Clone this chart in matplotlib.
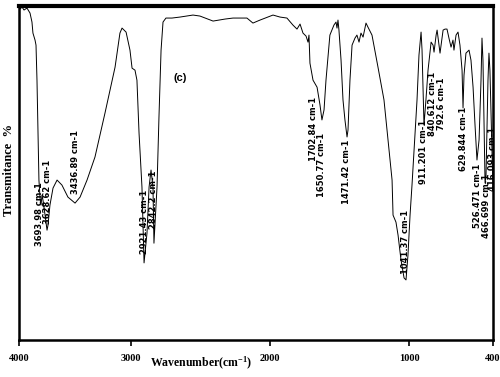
import matplotlib
matplotlib.use("Agg")
import matplotlib.pyplot as plt

plt.rcParams['mathtext.default'] = 'regular'

# FTIR spectrum (c)
wavenumber = [3793, 3778, 3764, 3743, 3721, 3707, 3700, 3685, 3678, 3671,
              3664, 3657, 3649, 3642, 3635, 3628, 3613, 3599, 3592, 3578,
              3556, 3527, 3492, 3449, 3398, 3362, 3312, 3255, 3183, 3111,
              3076, 3061, 3032, 3004, 2989, 2968, 2954, 2939, 2918, 2903,
              2882, 2867, 2853, 2839, 2832, 2810, 2796, 2781, 2767, 2746,
              2703, 2645, 2552, 2502, 2408, 2322, 2265, 2165, 2122, 2071,
              1978, 1928, 1878, 1835, 1806, 1784, 1763, 1741, 1727, 1720,
              1713, 1691, 1662, 1641, 1627, 1612, 1598, 1570, 1541, 1526,
              1519, 1512, 1505, 1490, 1476, 1462, 1447, 1440, 1426, 1411,
              1390, 1376, 1361, 1347, 1332, 1311, 1297, 1268, 1225, 1182,
              1153, 1124, 1117, 1096, 1081, 1060, 1038, 1024, 1010, 995,
              981, 966, 945, 931, 916, 909, 895, 881, 866, 844,
              830, 823, 808, 801, 780, 758, 744, 730, 716, 701,
              687, 680, 665, 651, 637, 622, 615, 608, 594, 572,
              558, 543, 529, 515, 500, 486, 479, 472, 457, 450,
              436, 429, 422, 407, 400]
transmit = [99.1, 99.7, 98.8, 99.4, 97.9, 95.2, 91.9, 89.8, 88.3, 77.8,
            62.9, 47.9, 42.5, 40.4, 43.4, 41.9, 37.4, 32.9, 34.4, 40.4,
            45.5, 47.9, 46.4, 42.8, 41.0, 42.8, 47.9, 54.8, 68.0, 81.7,
            91.9, 93.4, 92.2, 86.8, 81.4, 80.8, 77.8, 62.0, 45.8, 23.1,
            32.0, 45.8, 50.9, 45.8, 29.0, 45.8, 66.8, 86.8, 95.2, 96.4,
            96.4, 96.7, 97.3, 97.0, 95.5, 96.1, 96.4, 96.4, 94.9, 95.8,
            97.3, 96.7, 96.4, 94.3, 93.1, 94.6, 91.9, 91.0, 89.2, 91.3,
            82.9, 77.8, 75.7, 70.4, 65.9, 68.9, 77.8, 91.3, 94.3, 95.2,
            93.4, 95.8, 92.8, 83.8, 71.9, 65.9, 60.8, 62.9, 77.8, 88.3,
            90.4, 91.3, 89.2, 91.9, 90.7, 94.9, 93.7, 91.3, 81.7, 71.9,
            59.9, 47.9, 37.4, 35.3, 31.4, 24.0, 18.6, 18.0, 25.4, 37.4,
            46.4, 56.9, 71.9, 85.3, 92.2, 86.8, 64.4, 71.9, 80.8, 89.2,
            88.3, 86.2, 91.3, 92.8, 85.9, 92.8, 93.1, 93.1, 90.4, 87.7,
            89.8, 86.8, 91.3, 92.2, 88.3, 80.8, 69.5, 79.3, 85.9, 86.8,
            83.8, 75.7, 64.4, 53.9, 59.9, 77.8, 90.4, 83.8, 47.0, 49.4,
            77.8, 85.9, 80.8, 56.9, 44.9]

# peak labels: text, position (wavenumber), top of label (transmittance)
peak_text = ["3693.98 cm-1", "3628.62 cm-1", "3436.89 cm-1", "2921.43 cm-1",
             "2842.2 cm-1", "1702.84 cm-1", "1650.77 cm-1", "1471.42 cm-1",
             "1041.37 cm-1", "911.201 cm-1", "840.612 cm-1", "792.6 cm-1",
             "629.844 cm-1", "526.471 cm-1", "466.699 cm-1", "416.093 cm-1"]
peak_x = [3653, 3596, 3398, 2903, 2835, 1691, 1630, 1451,
          1031, 895, 834, 772, 615, 511, 450, 407]
peak_top = [47.3, 53.9, 62.9, 44.9, 50.9, 72.8, 62.0, 59.9,
            38.9, 65.9, 80.2, 78.7, 69.8, 52.7, 49.7, 63.8]

tick_pos = [3800, 3000, 2000, 1000, 400]
tick_lab = ["4000", "3000", "2000", "1000", "400"]

fig = plt.figure(figsize=(5, 3.77), dpi=100)
ax = fig.add_axes([0.038, 0.098, 0.948, 0.886])

ax.plot(wavenumber, transmit, color='black', lw=0.7)

for t, x, y in zip(peak_text, peak_x, peak_top):
    ax.text(x, y, t, rotation=90, ha='center', va='top', fontsize=6,
            fontweight='bold', family='DejaVu Sans')

ax.text(2645, 78.4, "(c)", fontsize=8, fontweight='bold', ha='center', va='center',
        family='Liberation Sans')

ax.set_xlim(3800, 400)
ax.set_ylim(0, 100)
ax.set_yticks([])
ax.set_xticks(tick_pos)
ax.set_xticklabels(tick_lab, family='Liberation Serif', fontweight='bold', fontsize=7.5)
ax.tick_params(axis='x', direction='out', length=4, width=1.2, pad=6)

for s in ax.spines.values():
    s.set_linewidth(1.8)
ax.spines['top'].set_linewidth(3)

ax.set_xlabel("Wavenumber(cm$^{-1}$)", family='Liberation Serif', fontweight='bold', fontsize=8.5)
ax.xaxis.set_label_coords(0.384, -0.045)
ax.set_ylabel("Transmitance  %", family='Liberation Serif', fontweight='bold', fontsize=9)
ax.yaxis.set_label_coords(-0.008, 0.51)

fig.savefig("out.png", dpi=100)
